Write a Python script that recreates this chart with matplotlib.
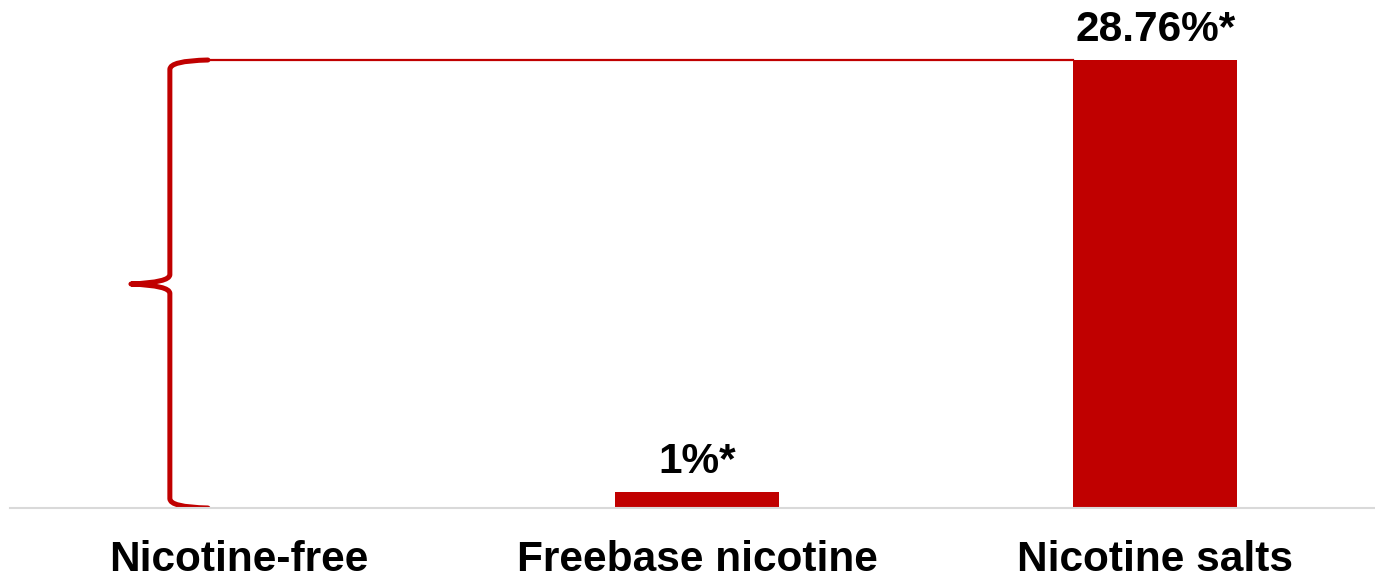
import matplotlib.pyplot as plt
from matplotlib.path import Path
from matplotlib.patches import PathPatch

# datos
categorias = ['Nicotine-free', 'Freebase nicotine', 'Nicotine salts']
valores = [0, 1, 28.76]
etiquetas = ['', '1%*', '28.76%*']

rojo = '#c00000'

plt.rcParams['font.family'] = ['Liberation Sans', 'DejaVu Sans']

fig = plt.figure(figsize=(13.75, 5.78), dpi=100)
ax = fig.add_axes([10 / 1375, 70 / 578, 1 - 10 / 1375, 508 / 578])

x = list(range(len(categorias)))
ancho = 0.358
barras = ax.bar(x, valores, width=ancho, color=rojo)

# etiquetas de valor
for xi, v, txt in zip(x, valores, etiquetas):
    if txt:
        ax.annotate(txt, (xi, v), xytext=(0, 14), textcoords='offset points',
                    ha='center', va='baseline', fontsize=30.5, fontweight='bold')

# llave a la izquierda, desde 0 hasta el valor mayor
top = max(valores)
xb = -0.151   # linea vertical
xt = -0.236   # punta
xe = -0.068   # extremos
mid = top / 2
r = 0.6
verts = [
    (xe, top), (xb, top - 0.05), (xb, top - r),
    (xb, mid + r),
    (xb, mid + 0.1), (xt, mid),
    (xb, mid - 0.1), (xb, mid - r),
    (xb, r),
    (xb, 0.05), (xe, 0),
]
codes = [Path.MOVETO, Path.CURVE3, Path.CURVE3,
         Path.LINETO,
         Path.CURVE3, Path.CURVE3,
         Path.CURVE3, Path.CURVE3,
         Path.LINETO,
         Path.CURVE3, Path.CURVE3]
ax.add_patch(PathPatch(Path(verts, codes), fill=False, edgecolor=rojo,
                       linewidth=3.6, capstyle='round', joinstyle='round'))

# linea horizontal hasta la barra mayor
ax.plot([xe, x[-1] - ancho / 2], [top, top], color=rojo, linewidth=1.6)

ax.set_xlim(-0.5, 2.48)
ax.set_ylim(0, top * 508 / 448)

for s in ['top', 'right', 'left']:
    ax.spines[s].set_visible(False)
ax.spines['bottom'].set_color('#d9d9d9')
ax.spines['bottom'].set_linewidth(1.5)
ax.set_yticks([])
ax.set_xticks(x)
ax.set_xticklabels(categorias, fontsize=30.5, fontweight='bold')
ax.tick_params(axis='x', length=0, pad=23)

fig.savefig('out.png', dpi=100)
